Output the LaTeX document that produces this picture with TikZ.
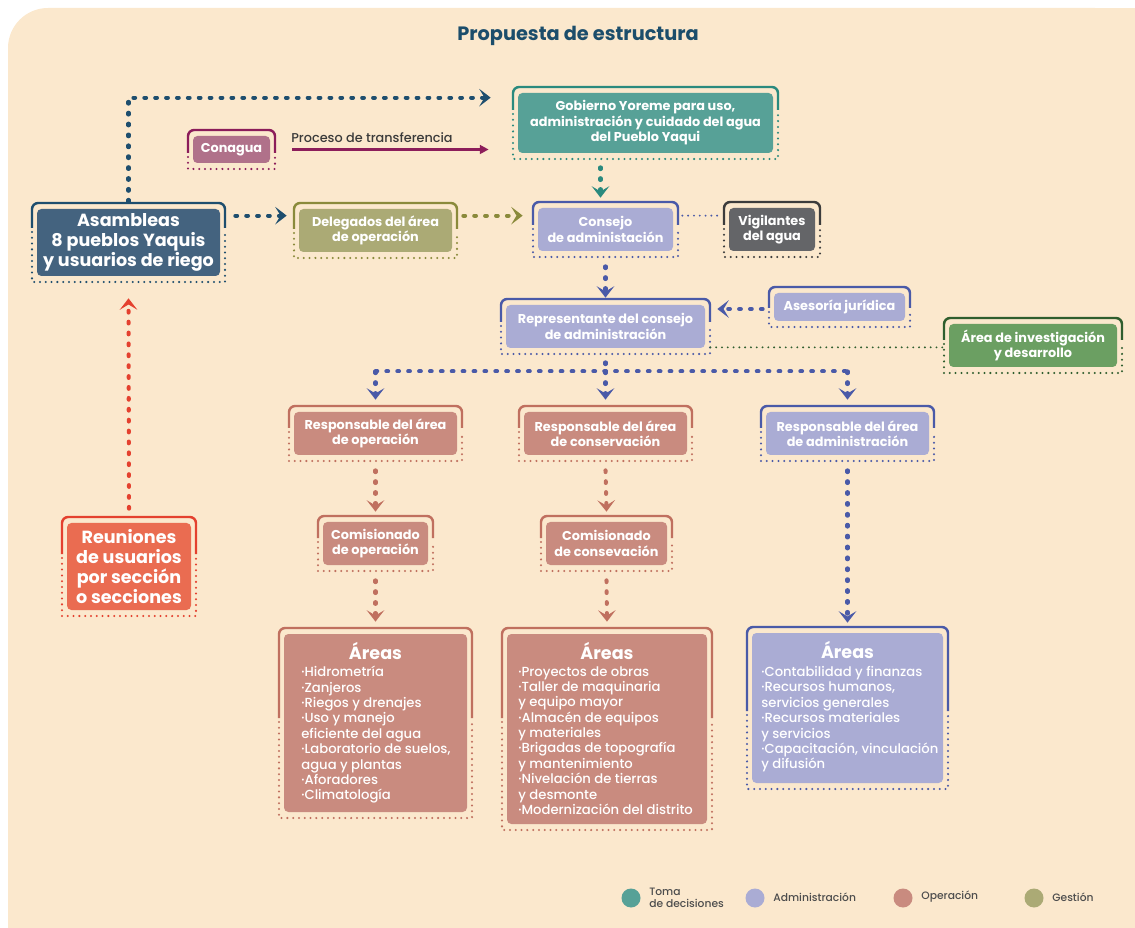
\documentclass[tikz,border=0pt]{standalone}
\usepackage{fontspec}
\setmainfont{Poppins}
\IfFontExistsTF{Poppins Medium}{\newfontfamily\medfont{Poppins Medium}}{\newfontfamily\medfont{Poppins}}
\usetikzlibrary{calc,arrows.meta}
\definecolor{cream}{HTML}{FBE8CD}
\definecolor{titlec}{HTML}{1B4D6B}
\definecolor{cTF}{HTML}{57A197}\definecolor{cTD}{HTML}{2A8A7E}
\definecolor{cMF}{HTML}{B0718A}\definecolor{cMD}{HTML}{8C1D5A}
\definecolor{cSF}{HTML}{44637F}\definecolor{cSD}{HTML}{1E4E6E}
\definecolor{cOF}{HTML}{ABAA75}\definecolor{cOD}{HTML}{8A8A3B}
\definecolor{cLF}{HTML}{AAACD4}\definecolor{cLD}{HTML}{4A5AA8}
\definecolor{cGF}{HTML}{646568}\definecolor{cGD}{HTML}{3C3C3C}
\definecolor{cVF}{HTML}{6B9F62}\definecolor{cVD}{HTML}{2F5E2E}
\definecolor{cRF}{HTML}{C98B7F}\definecolor{cRD}{HTML}{C0705F}
\definecolor{cCF}{HTML}{EA6C51}\definecolor{cCD}{HTML}{E4412F}
\definecolor{legtxt}{HTML}{4D4D4D}
\definecolor{proctxt}{HTML}{3A3A3A}
\tikzset{
  bx/.style={rounded corners=2.5pt, text=white, align=center, inner sep=0pt,
    font=\bfseries\fontsize{7.3}{8.8}\selectfont},
  bigtxt/.style={font=\bfseries\fontsize{10}{11.3}\selectfont},
  solidfr/.style={line width=1.4pt, rounded corners=3.5pt},
  dotfr/.style={line width=1.3pt, line cap=round, dash pattern=on 0pt off 3.3pt},
  conn/.style={line width=2.3pt, line cap=round, dash pattern=on 1pt off 5.2pt,
    -{Stealth[length=6.5pt,width=10pt,inset=3pt]}},
  thindot/.style={line width=1.2pt, line cap=round, dash pattern=on 0pt off 3.3pt},
  areatitle/.style={text=white, font=\bfseries\fontsize{10}{12}\selectfont, inner sep=0pt},
  items/.style={text=white, align=left, anchor=north west, inner sep=0pt,
    font=\medfont\fontsize{7.5}{8.75}\selectfont},
  legc/.style={circle, minimum size=0.38cm, inner sep=0pt},
  legt/.style={text=legtxt, align=left, anchor=west, inner sep=0pt,
    font=\medfont\fontsize{6.1}{6.9}\selectfont},
}
% name, x1, y1, x2, y2, colour prefix, solid length, extra options, text
\newcommand\orgbox[9]{%
  \node[bx, fill=#6F, minimum width={(#4-#2)*0.02cm}, minimum height={(#5-#3)*0.02cm}, #8]
    (#1) at ({(#2+#4)/2},{(#3+#5)/2}) {#9};
  \draw[solidfr, #6D] ({#2-5},{#3-6+#7}) -- ({#2-5},{#3-6}) -- ({#4+5},{#3-6}) -- ({#4+5},{#3-6+#7});
  \draw[dotfr, #6D] ({#2-5},{#3-6+#7+4}) -- ({#2-5},{#5+6}) -- ({#4+5},{#5+6}) -- ({#4+5},{#3-6+#7+4});
}
\begin{document}
\begin{tikzpicture}[x=0.02cm, y=-0.02cm]
\useasboundingbox (0,0) rectangle (1135,928);
% background
\fill[cream, rounded corners=0.8cm] (8,8) rectangle (1135,928);
\fill[cream] (100,8) rectangle (1135,928);
\fill[cream] (8,100) rectangle (1135,928);

\node[text=titlec, font=\bfseries\fontsize{11}{13}\selectfont] (title) at (578,36) {Propuesta de estructura};

% boxes
\orgbox{gob}{518}{93}{773}{153}{cT}{23}{}{Gobierno Yoreme para uso,\\administración y cuidado del agua\\del Pueblo Yaqui}
\orgbox{con}{193}{136}{270}{163}{cM}{23}{}{Conagua}
\orgbox{asm}{37}{209}{220}{276}{cS}{25}{bigtxt}{Asambleas\\8 pueblos Yaquis\\y usuarios de riego}
\orgbox{del}{299}{209}{452}{252}{cO}{26}{}{Delegados del área\\de operación}
\orgbox{cons}{538}{208}{673}{251}{cL}{23}{}{Consejo\\de administación}
\orgbox{vig}{729}{208}{815}{251}{cG}{23}{}{Vigilantes\\del agua}
\orgbox{rep}{506}{305}{705}{348}{cL}{23}{}{Representante del consejo\\de administración}
\orgbox{ase}{774}{293}{905}{321}{cL}{21}{}{Asesoría jurídica}
\orgbox{inv}{949}{324}{1117}{367}{cV}{22}{}{Área de investigación\\y desarrollo}
\orgbox{rop}{294}{412}{457}{455}{cR}{22}{}{Responsable del área\\de operación}
\orgbox{rcs}{524}{412}{687}{455}{cR}{22}{}{Responsable del área\\de conservación}
\orgbox{rad}{766}{412}{929}{455}{cL}{22}{}{Responsable del área\\de administración}
\orgbox{cop}{323}{522}{428}{565}{cR}{22}{}{Comisionado\\de operación}
\orgbox{ccs}{546}{522}{667}{565}{cR}{22}{}{Comisionado\\de consevación}
\orgbox{aop}{284}{634}{467}{812}{cR}{90}{}{}
\orgbox{acs}{507}{634}{707}{824}{cR}{90}{}{}
\orgbox{aad}{752}{633}{943}{783}{cL}{84}{}{}
\orgbox{reu}{67}{523}{191}{610}{cC}{37}{bigtxt}{Reuniones\\de usuarios\\por sección\\o secciones}

% area contents
\node[areatitle] (aopt) at (375.5,651) {Áreas};
\node[items] (aopi) at (301,666) {·Hidrometría\\·Zanjeros\\·Riegos y drenajes\\·Uso y manejo\\eficiente del agua\\·Laboratorio de suelos,\\agua y plantas\\·Aforadores\\·Climatología};
\node[areatitle] (acst) at (607,651) {Áreas};
\node[items] (acsi) at (518,666) {·Proyectos de obras\\·Taller de maquinaria\\y equipo mayor\\·Almacén de equipos\\y materiales\\·Brigadas de topografía\\y mantenimiento\\·Nivelación de tierras\\y desmonte\\·Modernización del distrito};
\node[areatitle] (aadt) at (847.5,650) {Áreas};
\node[items] (aadi) at (761,666) {·Contabilidad y finanzas\\·Recursos humanos,\\servicios generales\\·Recursos materiales\\y servicios\\·Capacitación, vinculación\\y difusión};

% connectors
\draw[conn, cSD] ($(asm.north)+(0,-7)$) |- ($(gob.north west)+(-27,5)$);
\draw[line width=1.3pt, cMD, -{Triangle[length=5pt,width=5pt]}] ($(con.east)+(22,0)$) -- ($(gob.west |- con.east)+(-29,0)$);
\node[anchor=west, inner sep=0pt, text=proctxt, font=\medfont\fontsize{7.3}{8.5}\selectfont] (proc) at (291,138) {Proceso de transferencia};
\draw[conn, cSD] ($(asm.north east)+(15,7)$) -- ($(del.north west)+(-12,7)$);
\draw[conn, cOD] ($(del.north east)+(11,7)$) -- ($(cons.north west)+(-15,8)$);
\draw[conn, cTD] ($(gob.south)+(-45,14)$) -- ($(cons.north)+(-5,-10)$);
\draw[thindot, cLD] ($(cons.north east)+(9,8)$) -- ($(vig.north west)+(-7,8)$);
\draw[conn, cLD] ($(cons.south)+(0,15)$) -- ($(rep.north)+(0,-7)$);
\draw[conn, cLD] ($(ase.west)+(-11,2)$) -- ($(rep.east |- ase.west)+(12,2)$);
\draw[thindot, cVD] ($(rep.south east)+(5,-1)$) -- ($(inv.west |- rep.south east)+(-5,-1)$);
\coordinate (br) at ($(rep.south)+(0,23)$);
\draw[conn, -, cLD] ($(rep.south)+(0,14)$) -- (br);
\draw[conn, -, cLD] (br -| rop.north) -- (br -| rad.north);
\draw[conn, cLD] (br -| rop.north) -- ($(rop.north)+(0,-12)$);
\draw[conn, cLD] (br) -- ($(rcs.north)+(0,-12)$);
\draw[conn, cLD] (br -| rad.north) -- ($(rad.north)+(0,-12)$);
\draw[conn, cRD] ($(rop.south)+(0,15)$) -- ($(cop.north)+(0,-10)$);
\draw[conn, cRD] ($(cop.south)+(0,15)$) -- ($(aop.north)+(0,-12)$);
\draw[conn, cRD] ($(rcs.south)+(0,15)$) -- ($(ccs.north)+(0,-10)$);
\draw[conn, cRD] ($(ccs.south)+(0,15)$) -- ($(acs.north)+(0,-12)$);
\draw[conn, cLD] ($(rad.south)+(0,15)$) -- ($(aad.north)+(0,-10)$);
\draw[conn, cCD] ($(reu.north)+(0,-14)$) -- ($(asm.south)+(0,22)$);

% legend
\node[legc, fill=cTF] (l1) at (631,898) {};
\node[legt] (l1t) at (649,898) {Toma\\de decisiones};
\node[legc, fill=cLF] (l2) at (755,898) {};
\node[legt] (l2t) at (773,897) {Administración};
\node[legc, fill=cRF] (l3) at (903,898) {};
\node[legt] (l3t) at (921,897) {Operación};
\node[legc, fill=cOF] (l4) at (1034,898) {};
\node[legt] (l4t) at (1052,897) {Gestión};
\end{tikzpicture}
\end{document}
